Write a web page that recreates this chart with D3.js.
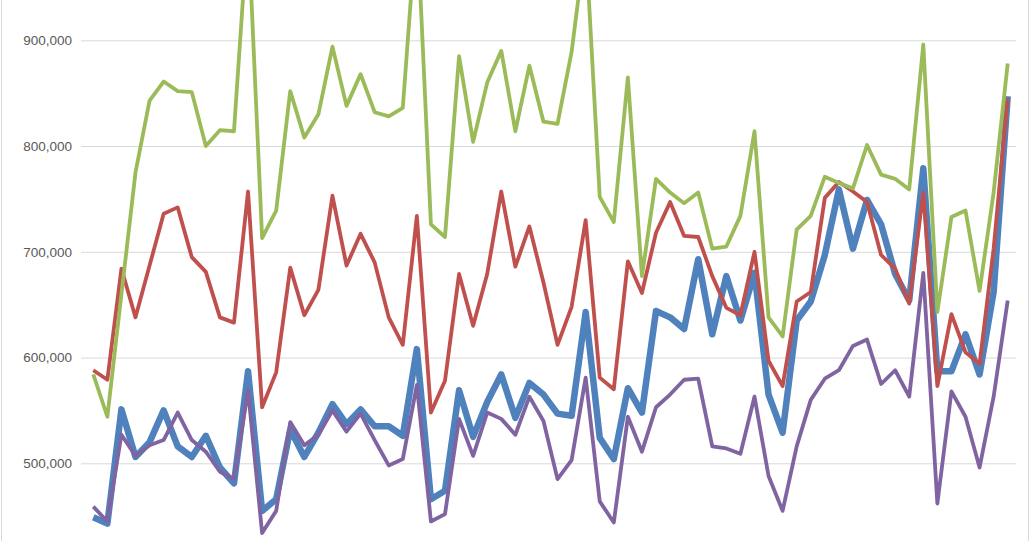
<!DOCTYPE html>
<html>
<head>
<meta charset="utf-8">
<script src="https://cdn.jsdelivr.net/npm/d3@7"></script>
<style>
  html, body { margin: 0; padding: 0; background: #fff; }
  svg { display: block; }
</style>
</head>
<body>
<div id="chart"></div>
<script>
// values (thousands)
var blueVals = [449, 443, 551, 506, 520, 550, 516, 506, 526, 496, 481, 587,
  455, 466, 532, 506, 529, 556, 537, 551, 535, 535, 526, 608, 466, 474, 569, 525, 558, 584,
  543, 576, 565, 547, 545, 643, 524, 504, 571, 548, 644, 638, 627, 693, 622, 677, 635, 680,
  565, 529, 635, 653, 697, 759, 703, 749, 726, 679, 654, 779, 587, 587, 622, 584, 662, 847];
var redVals = [588, 579, 684, 638, 687, 736, 742, 695, 681, 638, 633, 757,
  553, 586, 685, 640, 664, 753, 687, 717, 690, 638, 612, 734, 548, 578, 679, 630, 679, 757,
  686, 724, 671, 612, 648, 730, 581, 570, 691, 661, 718, 747, 715, 714, 677, 647, 640, 700,
  597, 573, 653, 662, 751, 766, 757, 747, 697, 684, 651, 756, 573, 641, 605, 594, 703, 845];
var greenVals = [584, 544, 660, 775, 843, 861, 852, 851, 800, 815, 814, 1010,
  713, 739, 852, 808, 830, 894, 838, 868, 832, 828, 836, 1016, 726, 714, 885, 804, 860, 890,
  814, 876, 823, 821, 889, 994, 752, 728, 865, 677, 769, 756, 746, 756, 703, 705, 734, 814,
  638, 620, 721, 734, 771, 765, 760, 801, 773, 769, 759, 896, 643, 733, 739, 663, 756, 878];
var purpleVals = [459, 445, 527, 507, 517, 522, 548, 522, 511, 492, 485, 569,
  434, 455, 539, 517, 527, 550, 530, 547, 522, 498, 504, 574, 445, 452, 542, 507, 548, 542,
  527, 563, 540, 485, 503, 581, 464, 444, 544, 511, 553, 565, 579, 580, 516, 514, 509, 563,
  488, 455, 516, 560, 580, 588, 611, 617, 575, 588, 563, 680, 462, 568, 544, 496, 563, 654];
var tickVals = [500000, 600000, 700000, 800000, 900000];

var series = [
  { name: "blue", vals: blueVals, color: "#4f81bd", width: 6.5 },
  { name: "red", vals: redVals, color: "#c0504d", width: 3.8 },
  { name: "green", vals: greenVals, color: "#9bbb59", width: 3.8 },
  { name: "purple", vals: purpleVals, color: "#8064a2", width: 3.8 }
];

var svgWidth = 1031;
var svgHeight = 541;

var svg = d3.select("#chart")
  .append("svg")
  .attr("width", svgWidth)
  .attr("height", svgHeight);

// outer chart border
svg.append("rect")
  .attr("x", 1.5)
  .attr("y", -10)
  .attr("width", 1027)
  .attr("height", svgHeight + 20)
  .attr("fill", "none")
  .attr("stroke", "#d9d9d9");

var xScale = d3.scaleLinear()
  .domain([0, blueVals.length - 1])
  .range([93.3, 1007.7]);

var yScale = d3.scaleLinear()
  .domain([500000, 900000])
  .range([463.3, 40.3]);

// gridlines + labels
var yAxis = d3.axisLeft(yScale)
  .tickValues(tickVals)
  .tickSize(-(1016 - 81))
  .tickPadding(9)
  .tickFormat(d3.format(","));

var gAxis = svg.append("g")
  .attr("transform", "translate(81,0)")
  .call(yAxis);

gAxis.select(".domain").remove();
gAxis.selectAll(".tick line")
  .attr("stroke", "#d9d9d9")
  .attr("stroke-width", 1);
gAxis.selectAll(".tick text")
  .attr("fill", "#595959")
  .style("font-family", "'Liberation Sans', Arial, sans-serif")
  .style("font-size", "13.5px");

var line = d3.line()
  .x((d, i) => xScale(i))
  .y(d => yScale(d * 1000));

series.forEach(function(s) {
  svg.append("path")
    .datum(s.vals)
    .attr("class", "line " + s.name)
    .attr("fill", "none")
    .attr("stroke", s.color)
    .attr("stroke-width", s.width)
    .attr("stroke-linejoin", "round")
    .attr("d", line);
});
</script>
</body>
</html>
